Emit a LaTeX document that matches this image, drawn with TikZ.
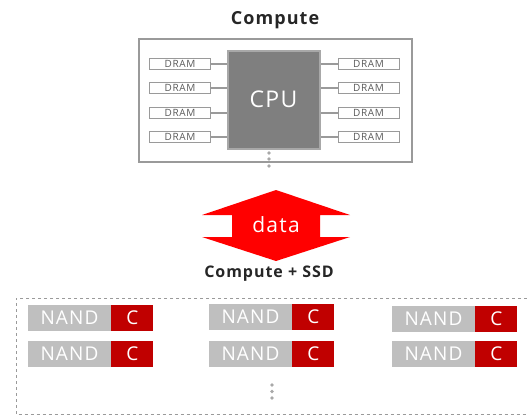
\documentclass[tikz,border=0pt]{standalone}
\usepackage{fontspec}
\setmainfont[LetterSpace=6]{Open Sans}
\usetikzlibrary{positioning}

\definecolor{boxgray}{HTML}{9A9A9A}
\definecolor{cpugray}{HTML}{7F7F7F}
\definecolor{cpuedge}{HTML}{A8A8A8}
\definecolor{dramtext}{HTML}{5A5A5A}
\definecolor{nandgray}{HTML}{BFBFBF}
\definecolor{ctrlred}{HTML}{C00000}
\definecolor{arrowred}{HTML}{FF0000}
\definecolor{titletext}{HTML}{262626}

\begin{document}
\begin{tikzpicture}[x=1pt, y=-1pt,
    title/.style={font=\bfseries\fontsize{18}{18}\selectfont, text=titletext},
    dram/.style={draw=boxgray, fill=white, line width=1pt, minimum width=61pt, minimum height=11pt,
        inner sep=0pt, font=\fontsize{10}{10}\selectfont, text=dramtext},
    nand/.style={fill=nandgray, text=white, minimum width=83pt, minimum height=26pt,
        inner sep=0pt, font=\fontsize{19}{19}\selectfont},
    ctrl/.style={fill=ctrlred, text=white, minimum width=42pt, minimum height=26pt,
        inner sep=0pt, font=\fontsize{19}{19}\selectfont},
    wire/.style={draw=boxgray, line width=1.5pt}]
        \useasboundingbox (0,0) rectangle (527,416);

        % Compute 部分
        \node[title] (ctitle) at (275,20) {Compute};
        \draw[boxgray, line width=2.2pt] (139,39) rectangle (412,162);
        \node[fill=cpugray, draw=cpuedge, line width=2pt, minimum width=92pt, minimum height=98pt,
            text=white, font=\fontsize{23}{23}\selectfont] (cpu) at (273.5,99.5) {CPU};

        % 左侧 DRAM
        \node[dram] (dl1) at (180,64) {DRAM};
        \node[dram] (dl2) at (180,88) {DRAM};
        \node[dram] (dl3) at (180,113) {DRAM};
        \node[dram] (dl4) at (180,137) {DRAM};
        % 右侧 DRAM
        \node[dram] (dr1) at (368.5,64) {DRAM};
        \node[dram] (dr2) at (368.5,88) {DRAM};
        \node[dram] (dr3) at (368.5,113) {DRAM};
        \node[dram] (dr4) at (368.5,137) {DRAM};

        % DRAM 与 CPU 的连线
        \draw[wire] (dl1.east) -- (dl1.east -| cpu.west);
        \draw[wire] (dl2.east) -- (dl2.east -| cpu.west);
        \draw[wire] (dl3.east) -- (dl3.east -| cpu.west);
        \draw[wire] (dl4.east) -- (dl4.east -| cpu.west);
        \draw[wire] (dr1.west) -- (dr1.west -| cpu.east);
        \draw[wire] (dr2.west) -- (dr2.west -| cpu.east);
        \draw[wire] (dr3.west) -- (dr3.west -| cpu.east);
        \draw[wire] (dr4.west) -- (dr4.west -| cpu.east);

        % CPU 下方省略号
        \fill[cpuedge] (269,153) circle (1.8pt);
        \fill[cpuedge] (269,159) circle (1.8pt);
        \fill[cpuedge] (269,166) circle (1.8pt);

        % 双向箭头 data
        \fill[arrowred] (276,190) -- (350,215) -- (320,215) -- (320,237) -- (350,237)
            -- (276,261) -- (202,237) -- (232,237) -- (232,215) -- (202,215) -- cycle;
        \node[text=white, font=\fontsize{21}{21}\selectfont] (data) at (276,225) {data};

        % Compute + SSD 部分
        \node[title, font=\bfseries\fontsize{16}{16}\selectfont] (stitle) at (269,274) {Compute + SSD};
        \draw[boxgray, dashed, line width=1pt] (527,298) -- (16,298) -- (16,414.5) -- (527,414.5);

        % NAND 与控制器 (第一行)
        \node[nand] (n11) at (69.5,318) {NAND};
        \node[ctrl, right=0pt of n11] (c11) {C};
        \node[nand] (n12) at (250.5,317) {NAND};
        \node[ctrl, right=0pt of n12] (c12) {C};
        \node[nand] (n13) at (433.5,319) {NAND};
        \node[ctrl, right=0pt of n13] (c13) {C};
        % NAND 与控制器 (第二行)
        \node[nand] (n21) at (69.5,353.5) {NAND};
        \node[ctrl, right=0pt of n21] (c21) {C};
        \node[nand] (n22) at (250.5,353.5) {NAND};
        \node[ctrl, right=0pt of n22] (c22) {C};
        \node[nand] (n23) at (433.5,354) {NAND};
        \node[ctrl, right=0pt of n23] (c23) {C};

        % 下方省略号
        \fill[cpuedge] (272,385) circle (1.8pt);
        \fill[cpuedge] (272,391.5) circle (1.8pt);
        \fill[cpuedge] (272,398) circle (1.8pt);
\end{tikzpicture}
\end{document}
